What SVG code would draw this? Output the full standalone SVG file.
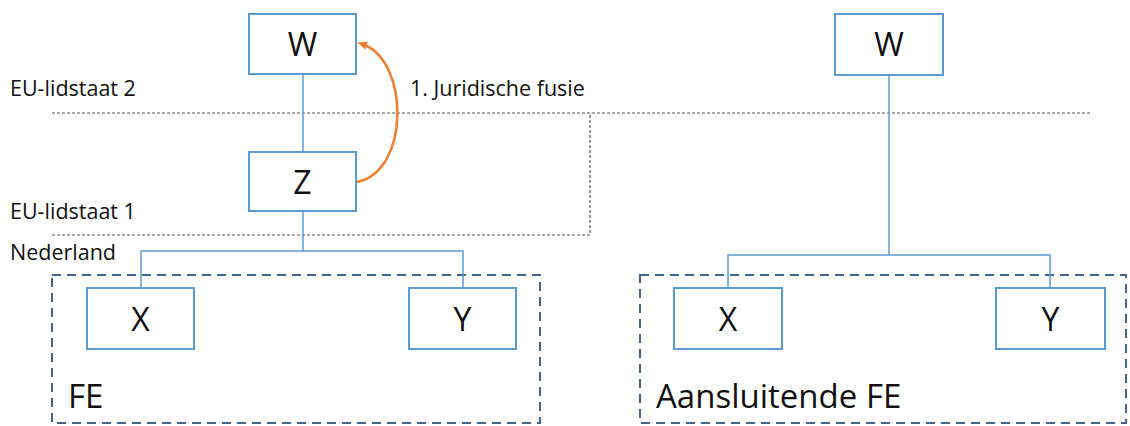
<svg xmlns="http://www.w3.org/2000/svg" width="1130" height="426" viewBox="0 0 1130 426">
<style>
.box{fill:#fff;stroke:#5B9BD5;stroke-width:2}
.lbl{font-family:"Open Sans","Noto Sans",sans-serif;font-size:32px;fill:#111;text-anchor:middle}
.side{font-family:"Open Sans","Noto Sans",sans-serif;font-size:21.5px;fill:#111}
.big{font-family:"Open Sans","Noto Sans",sans-serif;font-size:33px;fill:#111}
.conn{fill:none;stroke:#5B9BD5;stroke-width:1.5}
.dot{fill:none;stroke:#555;stroke-width:1.2;stroke-dasharray:3 2}
.grp{fill:none;stroke:#44648A;stroke-width:2;stroke-dasharray:9 6}
</style>
<defs>
<marker id="ah" markerWidth="10" markerHeight="10" refX="5" refY="4" orient="auto" markerUnits="userSpaceOnUse" viewBox="0 0 10 8">
<path d="M0,0 L10,4 L0,8 Z" fill="#ED7D31"/>
</marker>
</defs>
<rect width="1130" height="426" fill="#fff"/>
<g id="borders">
<polyline class="dot" points="52,113 1090,113"/>
<polyline class="dot" points="52,235 590,235 590,113"/>
</g>
<g id="side-labels">
<text class="side" x="10" y="96">EU-lidstaat 2</text>
<text class="side" x="10" y="219">EU-lidstaat 1</text>
<text class="side" x="10" y="260">Nederland</text>
<text class="side" x="410" y="96">1. Juridische fusie</text>
</g>
<g id="fe-left">
<rect class="grp" x="52" y="275" width="488" height="148"/>
<text class="big" x="68" y="408">FE</text>
</g>
<g id="fe-right">
<rect class="grp" x="640" y="275" width="486" height="148"/>
<text class="big" x="656" y="408">Aansluitende FE</text>
</g>
<g id="connectors">
<path class="conn" d="M303,74 V152"/>
<path class="conn" d="M303,211 V251"/>
<path class="conn" d="M141,288 V251 H463 V288"/>
<path class="conn" d="M889,75 V255"/>
<path class="conn" d="M728,288 V255 H1050 V288"/>
<path d="M357,182 C410,172 410,60 362,44" fill="none" stroke="#ED7D31" stroke-width="2.5" marker-end="url(#ah)"/>
</g>
<g id="W1"><rect class="box" x="249" y="14" width="107" height="60"/><text class="lbl" x="302.5" y="56">W</text></g>
<g id="Z"><rect class="box" x="249" y="152" width="107" height="59"/><text class="lbl" x="302.5" y="194">Z</text></g>
<g id="X1"><rect class="box" x="87" y="288" width="107" height="61"/><text class="lbl" x="140.5" y="331">X</text></g>
<g id="Y1"><rect class="box" x="409" y="288" width="107" height="61"/><text class="lbl" x="462.5" y="331">Y</text></g>
<g id="W2"><rect class="box" x="835" y="14" width="108" height="61"/><text class="lbl" x="889" y="56">W</text></g>
<g id="X2"><rect class="box" x="674" y="288" width="108" height="61"/><text class="lbl" x="728" y="331">X</text></g>
<g id="Y2"><rect class="box" x="996" y="288" width="109" height="61"/><text class="lbl" x="1050.5" y="331">Y</text></g>
</svg>
